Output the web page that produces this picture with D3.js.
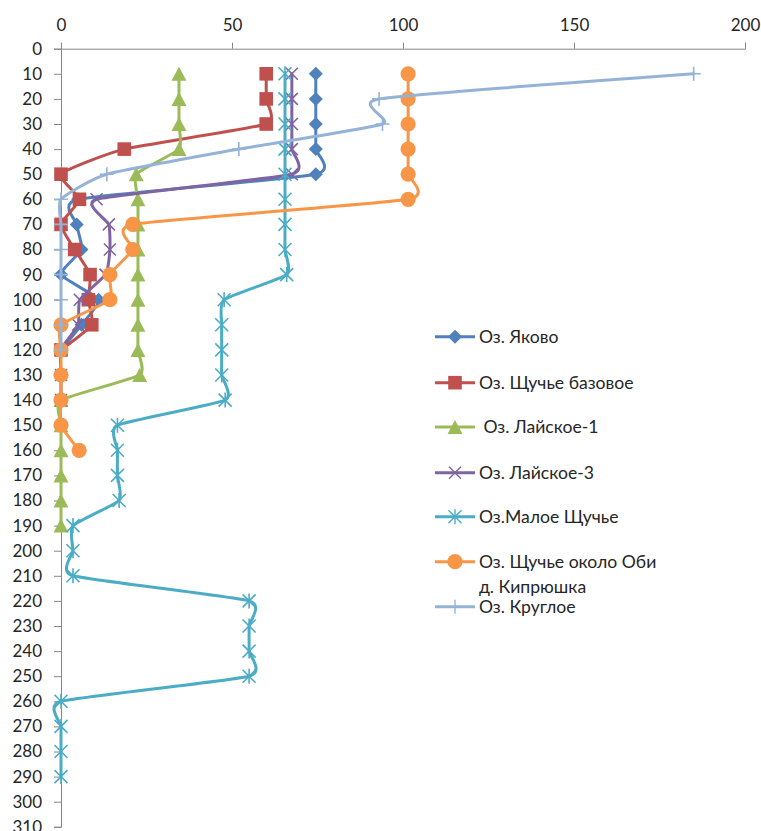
<!DOCTYPE html>
<html>
<head>
<meta charset="utf-8">
<script src="https://cdn.jsdelivr.net/npm/d3@7"></script>
<style>
  html, body { margin: 0; padding: 0; background: #fff; }
  svg { display: block; }
  text { font-family: Lato, "Open Sans", sans-serif; fill: #262626; }
</style>
</head>
<body>
<svg id="chart" width="761" height="831"></svg>
<script>
// ---- data ----
const depthTicks = d3.range(0, 311, 10);
const valueTicks = [0, 50, 100, 150, 200];

const seriesNames = [
  "Оз. Яково",
  "Оз. Щучье базовое",
  " Оз. Лайское-1",
  "Оз. Лайское-3",
  "Оз.Малое Щучье",
  "Оз. Щучье около Оби\nд. Кипрюшка",
  "Оз. Круглое"
];
const seriesColors = ["#4F81BD", "#C0504D", "#9BBB59", "#8064A2", "#4BACC6", "#F79646", "#95B3D7"];
const seriesMarkers = ["diamond", "square", "triangle", "x", "asterisk", "circle", "plus"];

const depthsYakovo = [10, 20, 30, 40, 50, 60, 70, 80, 90, 100, 110, 120];
const valuesYakovo = [74.5, 74.5, 74.5, 74.5, 74.5, 5, 4.6, 6, 0, 11, 6, 0];

const depthsShchBase = [10, 20, 30, 40, 50, 60, 70, 80, 90, 100, 110, 120];
const valuesShchBase = [60, 60, 60, 18.5, 0, 5.4, 0, 4, 8.5, 8, 9, 0];

const depthsLay1 = [10, 20, 30, 40, 50, 60, 70, 80, 90, 100, 110, 120, 130, 140, 150, 160, 170, 180, 190];
const valuesLay1 = [34.5, 34.5, 34.5, 34.5, 22, 22.5, 22.5, 22.5, 22.5, 22.5, 22.5, 22.5, 23, 0, 0, 0, 0, 0, 0];

const depthsLay3 = [10, 20, 30, 40, 50, 60, 70, 80, 90, 100, 110, 120, 130, 140];
const valuesLay3 = [67.5, 67.5, 67.5, 67.5, 67.5, 10.4, 14, 14.3, 13, 5.5, 5, 0, 0, 0];

const depthsMaloe = [10, 20, 30, 40, 50, 60, 70, 80, 90, 100, 110, 120, 130, 140, 150, 160, 170, 180, 190, 200, 210, 220, 230, 240, 250, 260, 270, 280, 290];
const valuesMaloe = [65.5, 65.5, 65.5, 65.5, 65.5, 65.5, 65.5, 65.5, 66, 47.7, 47, 47, 47, 48, 16.5, 16.5, 16.5, 17, 3.5, 3.5, 3.5, 55, 55, 55, 55, 0, 0, 0, 0];

const depthsOb = [10, 20, 30, 40, 50, 60, 70, 80, 90, 100, 110, 120, 130, 140, 150, 160];
const valuesOb = [101.5, 101.5, 101.5, 101.5, 101.5, 101.5, 21, 21, 14.3, 14.3, 0, 0, 0, 0, 0, 5.3];

const depthsKrugl = [10, 20, 30, 40, 50, 60, 70, 80, 90, 100, 110, 120];
const valuesKrugl = [185, 93, 94, 52, 13.4, 0, 0, 0, 0, 0, 0, 0];

const seriesDepths = [depthsYakovo, depthsShchBase, depthsLay1, depthsLay3, depthsMaloe, depthsOb, depthsKrugl];
const seriesValues = [valuesYakovo, valuesShchBase, valuesLay1, valuesLay3, valuesMaloe, valuesOb, valuesKrugl];

// ---- layout ----
const svg = d3.select("#chart");
const x = d3.scaleLinear().domain([0, 200]).range([61, 745]);
const y = d3.scaleLinear().domain([0, 310]).range([48.7, 826.8]);
const axisColor = "#868686";

// x axis on top
const gx = svg.append("g").attr("transform", `translate(0,${y(0)})`)
  .call(d3.axisTop(x).tickValues(valueTicks).tickSize(6).tickPadding(12));
gx.select(".domain").attr("stroke", axisColor).attr("stroke-width", 1);
gx.selectAll(".tick line").attr("stroke", axisColor);
gx.selectAll("text").attr("font-size", 17).attr("fill", "#262626").attr("font-family", "Lato, sans-serif");

// y axis
const gy = svg.append("g").attr("transform", `translate(${x(0)},0)`)
  .call(d3.axisLeft(y).tickValues(depthTicks).tickSize(7).tickPadding(12));
gy.select(".domain").attr("stroke", axisColor).attr("stroke-width", 1);
gy.selectAll(".tick line").attr("stroke", axisColor);
gy.selectAll("text").attr("font-size", 17).attr("fill", "#262626").attr("font-family", "Lato, sans-serif");

// ---- markers ----
function markerPath(type) {
  switch (type) {
    case "diamond": { const s = 7; return `M0,${-s}L${s},0L0,${s}L${-s},0Z`; }
    case "square": { const s = 6.8; return `M${-s},${-s}H${s}V${s}H${-s}Z`; }
    case "triangle": { const w = 7.5, h = 7; return `M0,${-h}L${w},${h}L${-w},${h}Z`; }
    case "circle": { const r = 7.6; return `M${r},0A${r},${r} 0 1,1 ${-r},0A${r},${r} 0 1,1 ${r},0Z`; }
    case "x": { const s = 6; return `M${-s},${-s}L${s},${s}M${-s},${s}L${s},${-s}`; }
    case "asterisk": { const s = 6.5; return `M${-s},${-s}L${s},${s}M${-s},${s}L${s},${-s}M0,${-s - 1}V${s + 1}`; }
    case "plus": { const s = 7; return `M${-s},0H${s}M0,${-s}V${s}`; }
  }
}
const filled = t => ["diamond", "square", "triangle", "circle"].includes(t);

const line = d3.line().x(d => x(d.v)).y(d => y(d.d)).curve(d3.curveCardinal.tension(0.5));

seriesNames.forEach((name, i) => {
  const pts = seriesDepths[i].map((d, k) => ({ d, v: seriesValues[i][k] }));
  const g = svg.append("g");
  g.append("path").datum(pts).attr("d", line)
    .attr("fill", "none").attr("stroke", seriesColors[i]).attr("stroke-width", 3)
    .attr("stroke-linejoin", "round").attr("stroke-linecap", "round");
  const t = seriesMarkers[i];
  g.selectAll("path.m").data(pts).enter().append("path").attr("class", "m")
    .attr("transform", d => `translate(${x(d.v)},${y(d.d)})`)
    .attr("d", markerPath(t))
    .attr("fill", filled(t) ? seriesColors[i] : "none")
    .attr("stroke", seriesColors[i])
    .attr("stroke-width", filled(t) ? 0 : 1.6);
});

// ---- legend ----
const legendY = [336.7, 382.7, 427, 472.7, 516.7, 561.7, 606.7];
const lg = svg.append("g");
seriesNames.forEach((name, i) => {
  const g = lg.append("g").attr("transform", `translate(0,${legendY[i]})`);
  g.append("line").attr("x1", 435).attr("x2", 475).attr("y1", 0).attr("y2", 0)
    .attr("stroke", seriesColors[i]).attr("stroke-width", 3);
  const t = seriesMarkers[i];
  g.append("path").attr("transform", "translate(455,0)").attr("d", markerPath(t))
    .attr("fill", filled(t) ? seriesColors[i] : "none")
    .attr("stroke", seriesColors[i]).attr("stroke-width", filled(t) ? 0 : 1.4);
  const lines = name.split("\n");
  const tx = g.append("text").attr("x", 479).attr("y", 6).attr("font-size", 17.6).attr("xml:space", "preserve");
  lines.forEach((ln, k) => {
    tx.append("tspan").attr("x", 479).attr("dy", k === 0 ? 0 : 25).text(ln);
  });
});
</script>
</body>
</html>
